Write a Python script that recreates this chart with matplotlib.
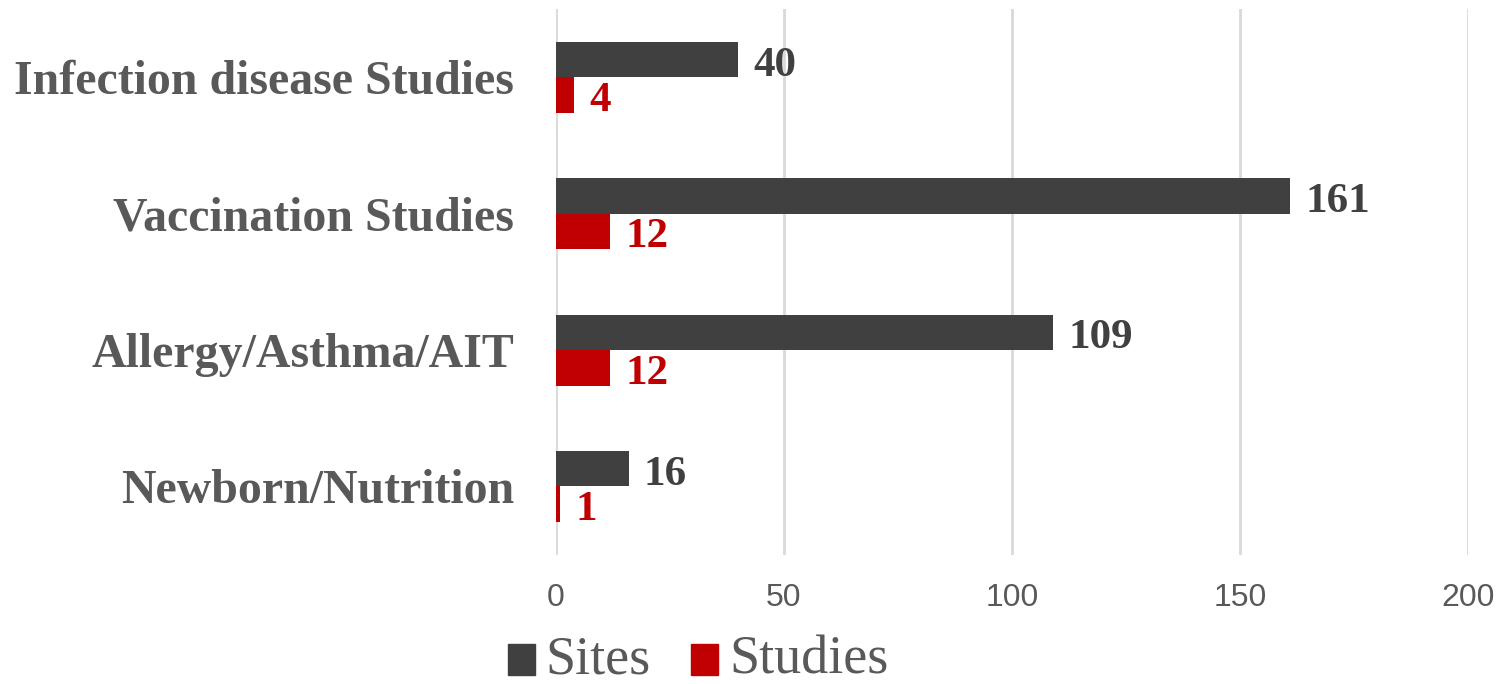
import matplotlib
matplotlib.use("Agg")
import matplotlib.pyplot as plt
import numpy as np
from matplotlib.patches import Patch, Rectangle
from matplotlib.legend_handler import HandlerPatch

categories = ["Infection disease Studies", "Vaccination Studies", "Allergy/Asthma/AIT", "Newborn/Nutrition"]
sites = [40, 161, 109, 16]
studies = [4, 12, 12, 1]
xticks = [0, 50, 100, 150, 200]

fig = plt.figure(figsize=(14.98, 6.84), dpi=100)
ax = fig.add_axes([0.371, 0.189, 0.609, 0.798])

y = np.arange(len(categories))
h = 0.26
c_sites = "#404040"
c_studies = "#C00000"
ax.barh(y - h / 2, sites, height=h, color=c_sites, zorder=3)
ax.barh(y + h / 2, studies, height=h, color=c_studies, zorder=3)

dy = 0.045
for yi, v in zip(y, sites):
    ax.text(v + 3.3, yi - h / 2 + dy, str(v), va="center", ha="left", color=c_sites,
            family="Liberation Serif", fontweight="bold", fontsize=31)
for yi, v in zip(y, studies):
    ax.text(v + 3.3, yi + h / 2 + dy, str(v), va="center", ha="left", color=c_studies,
            family="Liberation Serif", fontweight="bold", fontsize=31)

ax.set_xlim(0, 200)
ax.set_ylim(len(categories) - 0.5, -0.5)
ax.set_xticks(xticks)
ax.set_xticklabels([str(t) for t in xticks], family="Liberation Sans", fontsize=23, color="#595959")
ax.set_yticks(y)
ax.set_yticklabels(categories, family="Liberation Serif", fontweight="bold", fontsize=34.5, color="#595959")
ax.tick_params(axis="both", length=0)
ax.tick_params(axis="x", pad=20)
ax.tick_params(axis="y", pad=30)
for s in ax.spines.values():
    s.set_visible(False)
ax.grid(axis="x", color="#d9d9d9", linewidth=2, zorder=0)


def low_square(legend, orig_handle, xdescent, ydescent, width, height, fontsize):
    return Rectangle((-xdescent, -ydescent - 4.0), width, height)


handles = [Patch(color=c_sites, label="Sites"), Patch(color=c_studies, label="Studies")]
fig.legend(handles=handles, loc="center", bbox_to_anchor=(0.466, 0.035), ncol=2, frameon=False,
           prop={"family": "Liberation Serif", "size": 39}, labelcolor="#595959",
           handlelength=0.5, handleheight=0.5, handletextpad=0.2, columnspacing=0.75,
           handler_map={Patch: HandlerPatch(patch_func=low_square)})

fig.savefig("out.png", dpi=100)
